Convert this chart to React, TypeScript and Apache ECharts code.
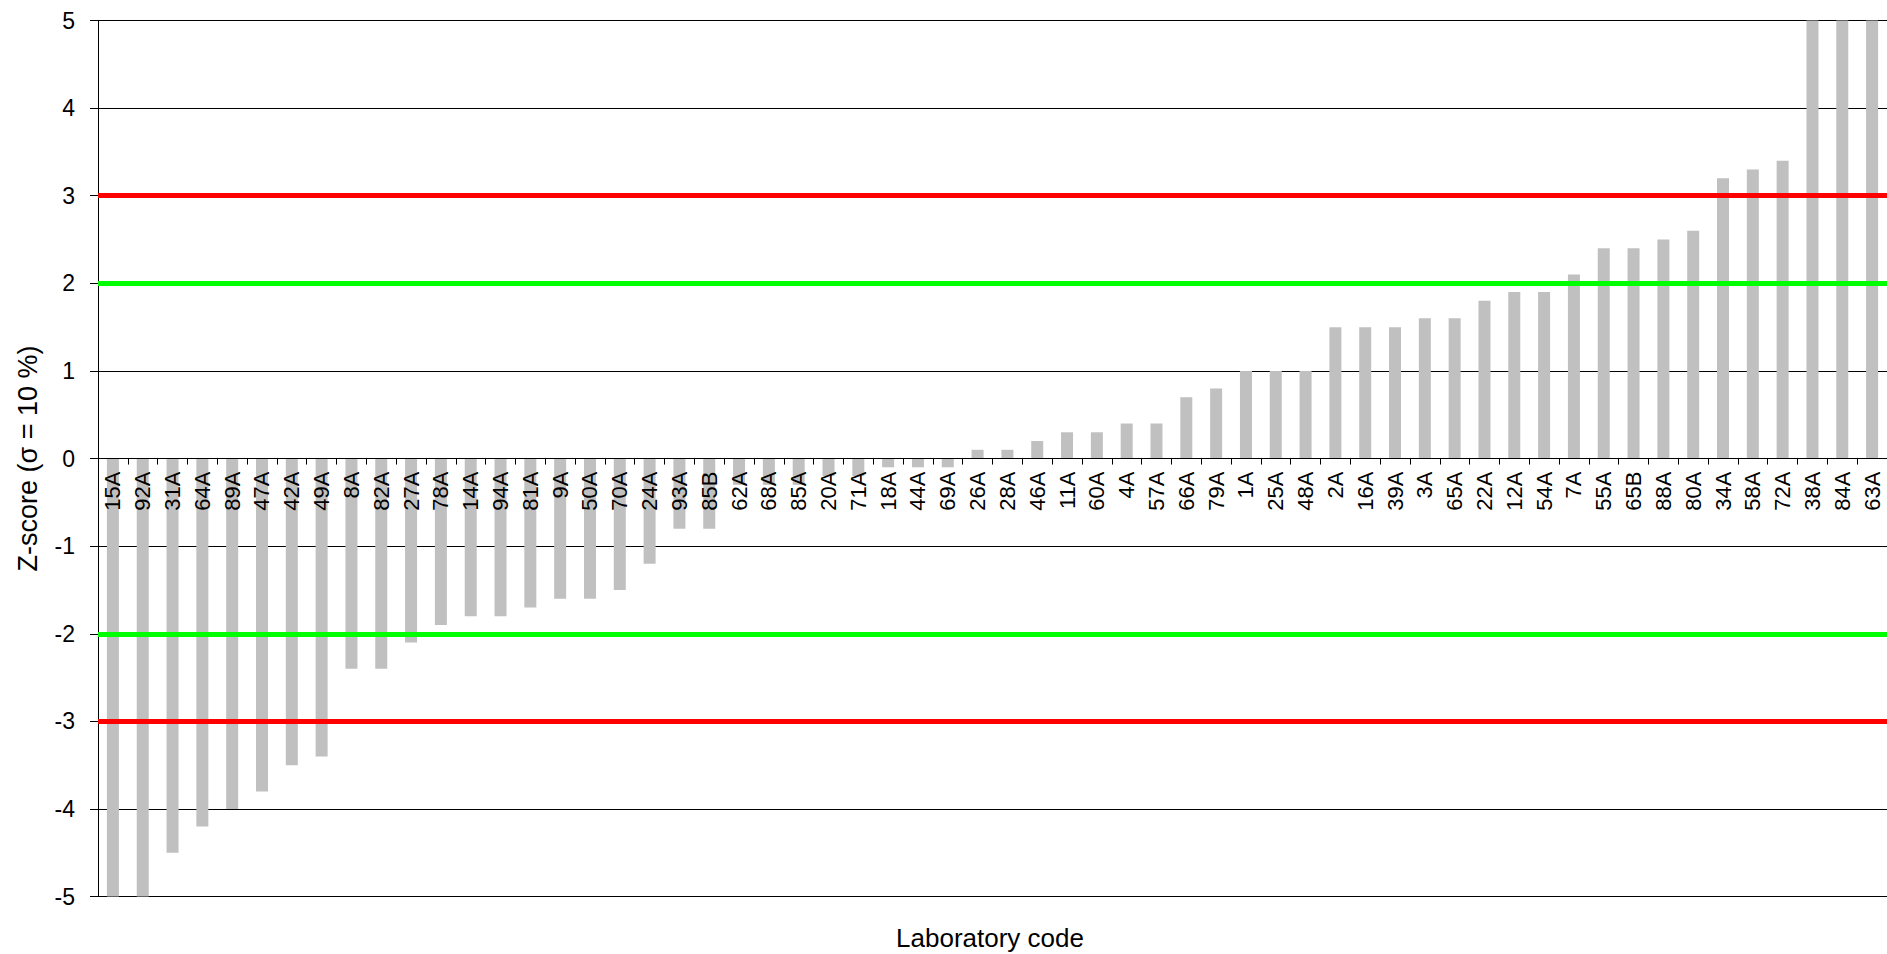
import React, { useEffect, useRef } from "react";
import * as echarts from "echarts";

const labCodes = [
  "15A", "92A", "31A", "64A", "89A", "47A", "42A", "49A", "8A", "82A",
  "27A", "78A", "14A", "94A", "81A", "9A", "50A", "70A", "24A", "93A",
  "85B", "62A", "68A", "85A", "20A", "71A", "18A", "44A", "69A", "26A",
  "28A", "46A", "11A", "60A", "4A", "57A", "66A", "79A", "1A", "25A",
  "48A", "2A", "16A", "39A", "3A", "65A", "22A", "12A", "54A", "7A",
  "55A", "65B", "88A", "80A", "34A", "58A", "72A", "38A", "84A", "63A",
];

const zScores = [
  -5, -5, -4.5, -4.2, -4.0, -3.8, -3.5, -3.4, -2.4, -2.4,
  -2.1, -1.9, -1.8, -1.8, -1.7, -1.6, -1.6, -1.5, -1.2, -0.8,
  -0.8, -0.3, -0.3, -0.3, -0.2, -0.2, -0.1, -0.1, -0.1, 0.1,
  0.1, 0.2, 0.3, 0.3, 0.4, 0.4, 0.7, 0.8, 1.0, 1.0,
  1.0, 1.5, 1.5, 1.5, 1.6, 1.6, 1.8, 1.9, 1.9, 2.1,
  2.4, 2.4, 2.5, 2.6, 3.2, 3.3, 3.4, 5, 5, 5,
];

const redLimits = [3, -3];
const greenLimits = [2, -2];

const yMin = -5;
const yMax = 5;
const yStep = 1;

const FONT = "'Liberation Sans', Arial, sans-serif";

const W = 1887;
const H = 954;
const GRID_TOP = 20.5;
const GRID_BOTTOM = 57.4;

export default function App() {
  const ref = useRef<HTMLDivElement>(null);

  useEffect(() => {
    document.body.style.margin = "0";
    if (!ref.current) return;
    const chart = echarts.init(ref.current, undefined, { renderer: "svg" });
    const plotH = H - GRID_TOP - GRID_BOTTOM;
    // distance from bottom edge of grid up to the value 0
    const zeroOffset = (plotH * (0 - yMin)) / (yMax - yMin);
    const markData = [
      ...redLimits.map((v) => ({ yAxis: v, lineStyle: { color: "#ff0000", width: 5, type: "solid" } })),
      ...greenLimits.map((v) => ({ yAxis: v, lineStyle: { color: "#00ff00", width: 5, type: "solid" } })),
    ];
    chart.setOption({
      animation: false,
      backgroundColor: "#ffffff",
      grid: { left: 98, right: -1, top: GRID_TOP, bottom: GRID_BOTTOM, containLabel: false },
      xAxis: {
        type: "category",
        data: labCodes,
        boundaryGap: true,
        position: "bottom",
        offset: -zeroOffset,
        z: 10,
        axisLine: { show: true, onZero: false, lineStyle: { color: "#000", width: 1 } },
        axisTick: { show: true, alignWithLabel: false, length: 6, inside: false, lineStyle: { color: "#000" } },
        axisLabel: {
          interval: 0,
          rotate: 90,
          margin: 13,
          color: "#000",
          fontSize: 22,
          fontFamily: FONT,
        },
        splitLine: { show: false },
      },
      yAxis: {
        type: "value",
        min: yMin,
        max: yMax,
        interval: yStep,
        name: "Z-score (σ = 10 %)",
        nameLocation: "middle",
        nameGap: 57,
        nameTextStyle: { color: "#000", fontSize: 27, fontFamily: FONT },
        axisLine: { show: true, lineStyle: { color: "#000", width: 1 } },
        axisTick: { show: true, length: 8, lineStyle: { color: "#000" } },
        axisLabel: { color: "#000", fontSize: 23, fontFamily: FONT, margin: 23 },
        splitLine: { show: true, lineStyle: { color: "#000", width: 1 } },
      },
      graphic: [
        {
          type: "text",
          x: 990,
          y: 938,
          style: {
            text: "Laboratory code",
            fill: "#000",
            fontSize: 26,
            fontFamily: FONT,
            textAlign: "center",
            textVerticalAlign: "middle",
          },
        },
      ],
      series: [
        {
          type: "bar",
          data: zScores,
          barWidth: 12,
          clip: true,
          z: 2,
          itemStyle: { color: "#c0c0c0" },
          markLine: {
            silent: true,
            symbol: ["none", "none"],
            label: { show: false },
            data: markData,
          },
        },
      ],
    });
    return () => chart.dispose();
  }, []);

  return <div ref={ref} style={{ width: W, height: H }} />;
}
